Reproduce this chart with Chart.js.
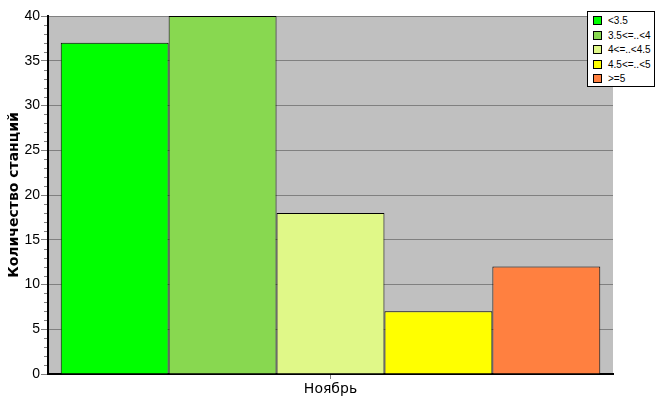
<!DOCTYPE html>
<html><head><meta charset="utf-8">
<script src="https://cdn.jsdelivr.net/npm/chart.js@4"></script>
<style>
html,body{margin:0;padding:0;background:#fff;}
#wrap{position:relative;width:667px;height:415px;}
#legend{position:absolute;left:587px;top:11px;width:66px;height:74px;border:1px solid #000;background:#fff;font:10px "Liberation Sans",Arial,sans-serif;box-sizing:content-box;}
#legend div{position:absolute;left:5px;height:12px;line-height:12px;white-space:nowrap;}
#legend span{display:inline-block;width:7px;height:7px;border:1px solid #000;margin-right:6px;vertical-align:-1px;}
</style></head>
<body><div id="wrap"><canvas id="c" width="667" height="415"></canvas><div id="legend"></div></div>
<script>
const categories = ["Ноябрь"];
const seriesNames = ["<3.5", "3.5<=..<4", "4<=..<4.5", "4.5<=..<5", ">=5"];
const seriesValues = [[37], [40], [18], [7], [12]];
const seriesColors = ["#00FF00", "#88D850", "#E0F888", "#FFFF00", "#FF8040"];
const yTicks = [0, 5, 10, 15, 20, 25, 30, 35, 40];
const yTitle = "Количество станций";

const lg = document.getElementById('legend');
seriesNames.forEach((n, i) => {
  const d = document.createElement('div');
  d.style.top = (3 + i * 14.5) + 'px';
  const s = document.createElement('span');
  s.style.background = seriesColors[i];
  d.appendChild(s);
  d.appendChild(document.createTextNode(n));
  lg.appendChild(d);
});

const minorTicks = {
  id: 'minorTicks',
  afterDraw(chart) {
    const y = chart.scales.y, ca = chart.chartArea, ctx = chart.ctx;
    ctx.save();
    ctx.strokeStyle = '#808080';
    ctx.lineWidth = 1;
    for (let v = 0; v <= 40; v++) {
      if (v % 5 === 0) continue;
      const py = Math.round(y.getPixelForValue(v)) + 0.5;
      ctx.beginPath(); ctx.moveTo(ca.left - 4, py); ctx.lineTo(ca.left - 1, py); ctx.stroke();
    }
    ctx.restore();
  }
};
const bg = {
  id: 'bg',
  beforeDraw(chart) {
    const ca = chart.chartArea, ctx = chart.ctx;
    ctx.save(); ctx.fillStyle = '#C0C0C0';
    ctx.fillRect(ca.left, ca.top, ca.right - ca.left, ca.bottom - ca.top);
    ctx.restore();
  }
};

new Chart(document.getElementById('c'), {
  type: 'bar',
  data: {
    labels: categories,
    datasets: seriesNames.map((n, i) => ({
      label: n, data: seriesValues[i], backgroundColor: seriesColors[i],
      borderColor: '#000', borderWidth: 1, barPercentage: 1, categoryPercentage: 0.955
    }))
  },
  options: {
    responsive: false, animation: false, devicePixelRatio: 1,
    layout: { padding: { top: 16, right: 54, bottom: 0, left: 6 } },
    plugins: { legend: { display: false }, tooltip: { enabled: false } },
    scales: {
      x: {
        afterFit(s) { s.height = 41; },
        grid: { display: true, drawOnChartArea: false, offset: false, color: '#808080', tickLength: 5 },
        border: { color: '#000', width: 2 },
        ticks: { color: '#000', font: { family: 'DejaVu Sans', size: 14 }, padding: 2 }
      },
      y: {
        min: 0, max: 40,
        afterBuildTicks(s) { s.ticks = yTicks.map(v => ({ value: v })); },
        afterFit(s) { s.width = 42; },
        grid: { color: '#808080', tickLength: 7 },
        border: { color: '#000', width: 2 },
        ticks: { color: '#000', font: { family: 'Liberation Sans', size: 14 }, padding: 1 },
        title: { display: true, text: yTitle, color: '#000', font: { family: 'DejaVu Sans', size: 14, weight: 'bold' }, padding: 0 }
      }
    }
  },
  plugins: [bg, minorTicks]
});
</script></body></html>
